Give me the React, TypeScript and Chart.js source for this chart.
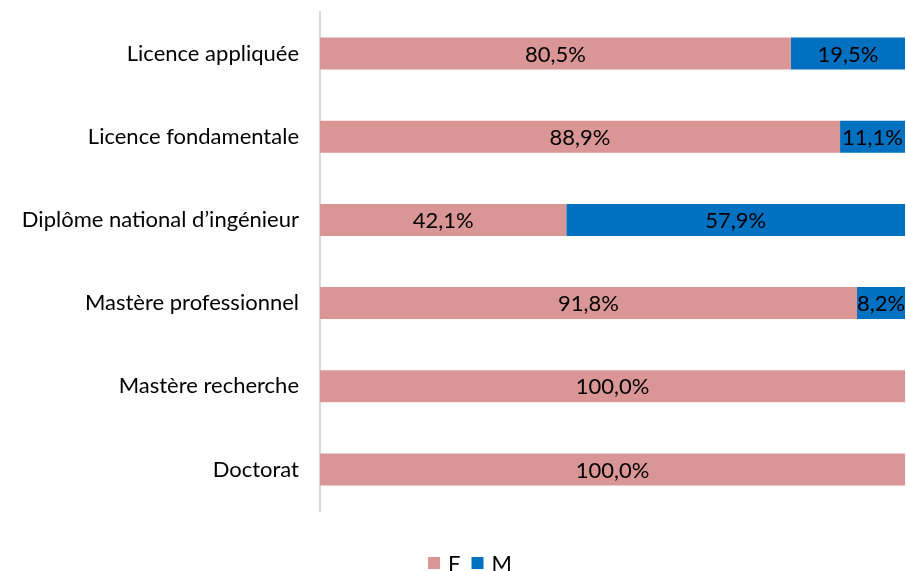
import React, { useEffect, useRef } from "react";
import { Chart, registerables } from "chart.js";
Chart.register(...registerables);

const categories = [
  "Licence appliquée",
  "Licence fondamentale",
  "Diplôme national d’ingénieur",
  "Mastère professionnel",
  "Mastère recherche",
  "Doctorat",
];
const femaleValues = [80.5, 88.9, 42.1, 91.8, 100.0, 100.0];
const maleValues = [19.5, 11.1, 57.9, 8.2, 0, 0];
const seriesLabels = ["F", "M"];
const seriesColors = ["#D99694", "#0070C0"];

const FONT = "Lato, 'Liberation Sans', sans-serif";
const FONT_SIZE = 22;

const dataLabelPlugin = {
  id: "dataLabels",
  afterDatasetsDraw(chart: any) {
    const ctx = chart.ctx;
    ctx.save();
    ctx.font = `${FONT_SIZE}px ${FONT}`;
    ctx.fillStyle = "#000";
    ctx.textAlign = "center";
    ctx.textBaseline = "middle";
    chart.data.datasets.forEach((ds: any, di: number) => {
      const meta = chart.getDatasetMeta(di);
      meta.data.forEach((bar: any, i: number) => {
        const v = ds.data[i];
        if (!v) return;
        const p = bar.getProps(["x", "base", "y"], true);
        ctx.fillText(v.toFixed(1).replace(".", ",") + "%", (p.x + p.base) / 2, p.y + 1);
      });
    });
    ctx.restore();
  },
};

const legendPlugin = {
  id: "customLegend",
  afterDraw(chart: any) {
    const ctx = chart.ctx;
    ctx.save();
    ctx.font = `${FONT_SIZE}px ${FONT}`;
    ctx.textBaseline = "middle";
    ctx.textAlign = "left";
    const box = 12;
    const gapText = 8;
    const gapItem = 11;
    const items = chart.data.datasets.map((ds: any) => ({
      text: ds.label,
      color: ds.backgroundColor,
      w: box + gapText + ctx.measureText(ds.label).width,
    }));
    const total = items.reduce((s: number, it: any) => s + it.w, 0) + gapItem * (items.length - 1);
    let x = chart.width / 2 + 17 - total / 2;
    const cy = chart.height - 8;
    items.forEach((it: any) => {
      ctx.fillStyle = it.color;
      ctx.fillRect(x, cy - box / 2, box, box);
      ctx.fillStyle = "#000";
      ctx.fillText(it.text, x + box + gapText, cy + 1);
      x += it.w + gapItem;
    });
    ctx.restore();
  },
};

export default function App() {
  const ref = useRef<HTMLCanvasElement | null>(null);
  useEffect(() => {
    if (!ref.current) return;
    const chart = new Chart(ref.current, {
      type: "bar",
      data: {
        labels: categories,
        datasets: [
          { label: seriesLabels[0], data: femaleValues, backgroundColor: seriesColors[0] },
          { label: seriesLabels[1], data: maleValues, backgroundColor: seriesColors[1] },
        ],
      },
      options: {
        indexAxis: "y",
        responsive: true,
        maintainAspectRatio: false,
        animation: false,
        categoryPercentage: 0.5,
        barPercentage: 0.77,
        layout: { padding: { top: 12, right: 1, bottom: 60, left: 0 } },
        plugins: {
          legend: { display: false },
          tooltip: { enabled: false },
        },
        scales: {
          x: { stacked: true, min: 0, max: 100, display: false },
          y: {
            stacked: true,
            grid: { display: false, drawTicks: false },
            border: { display: true, color: "#d9d9d9", width: 2 },
            ticks: { color: "#000", font: { size: FONT_SIZE, family: FONT }, padding: 21 },
            afterFit(scale: any) {
              scale.width = 320;
              scale.paddingTop = 0;
              scale.paddingBottom = 0;
            },
          },
        },
      } as any,
      plugins: [dataLabelPlugin, legendPlugin],
    });
    return () => chart.destroy();
  }, []);
  return (
    <div style={{ position: "absolute", left: 0, top: 0, width: 906, height: 571, background: "#fff" }}>
      <canvas ref={ref} />
    </div>
  );
}
